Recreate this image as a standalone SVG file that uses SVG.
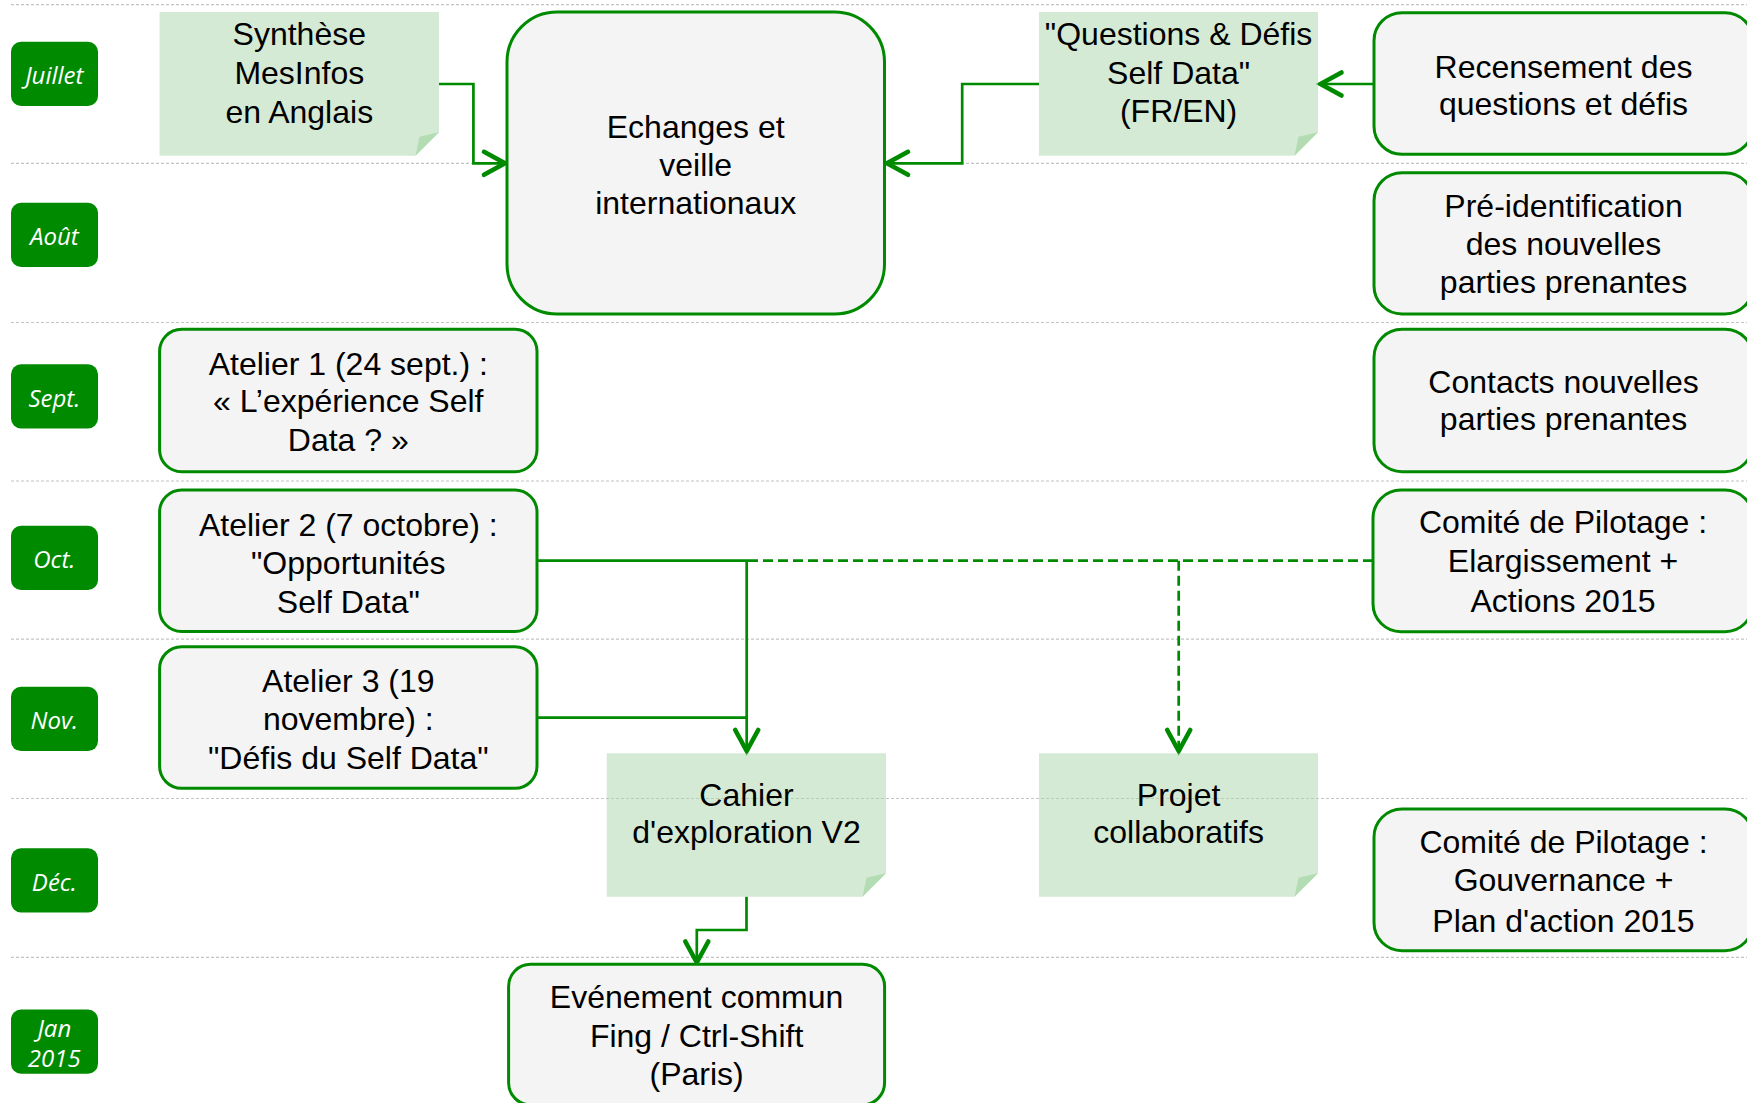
<svg xmlns="http://www.w3.org/2000/svg" width="1747" height="1103" viewBox="0 0 1747 1103">
<style>
.grid{stroke:#c4c4c4;stroke-width:1.2;stroke-dasharray:3 2;fill:none}
.badge{fill:#008a00}
.btxt{font-family:"Open Sans","DejaVu Sans",sans-serif;font-style:italic;font-size:24px;fill:#ffffff;text-anchor:middle}
.box{fill:#f4f4f4;stroke:#008a00;stroke-width:3}
.note{fill:#aad5aa;fill-opacity:0.5}
.fold{fill:#b3dcb3}
.txt{font-family:"Liberation Sans",Arial,sans-serif;font-size:32px;fill:#000;text-anchor:middle}
.con{fill:none;stroke:#008a00;stroke-width:2.7}
.dash{stroke-dasharray:10 5}
</style>
<defs>
<marker id="arr" markerUnits="userSpaceOnUse" viewBox="-30 -20 40 40" refX="0" refY="0" markerWidth="40" markerHeight="40" orient="auto" overflow="visible">
<path d="M-21,-11.5 L0,0 L-21,11.5" fill="none" stroke="#008a00" stroke-width="4.6" stroke-linejoin="miter" stroke-linecap="round" stroke-dasharray="none"/>
</marker>
</defs>
<rect width="1747" height="1103" fill="#ffffff"/>
<g id="grid">
<line class="grid" x1="11" y1="4.7" x2="1747" y2="4.7"/>
<line class="grid" x1="11" y1="163.3" x2="1747" y2="163.3"/>
<line class="grid" x1="11" y1="322.5" x2="1747" y2="322.5"/>
<line class="grid" x1="11" y1="481" x2="1747" y2="481"/>
<line class="grid" x1="11" y1="639.2" x2="1747" y2="639.2"/>
<line class="grid" x1="11" y1="798.5" x2="1747" y2="798.5"/>
<line class="grid" x1="11" y1="957.3" x2="1747" y2="957.3"/>
</g>
<g id="months">
<g id="m-juillet"><rect class="badge" x="11" y="41.7" width="87" height="64.3" rx="10"/><text class="btxt" x="54.3" y="84.3">Juillet</text></g>
<g id="m-aout"><rect class="badge" x="11" y="202.7" width="87" height="64.3" rx="10"/><text class="btxt" x="54.3" y="245.3">Août</text></g>
<g id="m-sept"><rect class="badge" x="11" y="364.2" width="87" height="64.3" rx="10"/><text class="btxt" x="54.3" y="406.8">Sept.</text></g>
<g id="m-oct"><rect class="badge" x="11" y="525.7" width="87" height="64.3" rx="10"/><text class="btxt" x="54.3" y="568.3">Oct.</text></g>
<g id="m-nov"><rect class="badge" x="11" y="686.8" width="87" height="64.3" rx="10"/><text class="btxt" x="54.3" y="729.4">Nov.</text></g>
<g id="m-dec"><rect class="badge" x="11" y="848.2" width="87" height="64.3" rx="10"/><text class="btxt" x="54.3" y="890.8">Déc.</text></g>
<g id="m-jan"><rect class="badge" x="11" y="1009.5" width="87" height="64.3" rx="10"/><text class="btxt" x="54.3" y="1036.7">Jan</text><text class="btxt" x="54.3" y="1067.3">2015</text></g>
</g>
<g id="connectors">
<path class="con" d="M439,84 H473.4 V163.3 H505" marker-end="url(#arr)"/>
<path class="con" d="M1039,84 H962.2 V163.3 H887" marker-end="url(#arr)"/>
<path class="con" d="M1374,84 H1320.5" marker-end="url(#arr)"/>
<path class="con dash" d="M1373,560.7 H746.7"/>
<path class="con dash" d="M1178.7,560.7 V751" marker-end="url(#arr)"/>
<path class="con" d="M537,560.7 H746.7 V751" marker-end="url(#arr)"/>
<path class="con" d="M537,717.7 H746.7"/>
<path class="con" d="M746.5,896.7 V930 H696.8 V962.5" marker-end="url(#arr)"/>
</g>
<g id="n-synthese">
<path class="note" d="M159.6,12 H439 V132.2 L415.5,155.7 H159.6 Z"/>
<path class="fold" d="M415.5,155.7 L439,132.2 L419.5,136.7 Z"/>
<text class="txt" x="299.3" y="45">Synthèse</text>
<text class="txt" x="299.3" y="83.5">MesInfos</text>
<text class="txt" x="299.3" y="122.5">en Anglais</text>
</g>
<g id="n-echanges">
<rect class="box" x="507" y="12" width="377.5" height="302" rx="50"/>
<text class="txt" x="695.7" y="137.5">Echanges et</text>
<text class="txt" x="695.7" y="175.5">veille</text>
<text class="txt" x="695.7" y="214">internationaux</text>
</g>
<g id="n-questions">
<path class="note" d="M1039,12 H1318 V132.2 L1294.5,155.7 H1039 Z"/>
<path class="fold" d="M1294.5,155.7 L1318,132.2 L1298.5,136.7 Z"/>
<text class="txt" x="1178.6" y="45">"Questions &amp; Défis</text>
<text class="txt" x="1178.6" y="83.5">Self Data"</text>
<text class="txt" x="1178.6" y="122">(FR/EN)</text>
</g>
<g id="n-recensement">
<rect class="box" x="1374" y="12.7" width="379" height="141.6" rx="28"/>
<text class="txt" x="1563.5" y="77.7">Recensement des</text>
<text class="txt" x="1563.5" y="114.5">questions et défis</text>
</g>
<g id="n-preid">
<rect class="box" x="1374" y="172.7" width="379" height="141.3" rx="28"/>
<text class="txt" x="1563.5" y="217">Pré-identification</text>
<text class="txt" x="1563.5" y="255">des nouvelles</text>
<text class="txt" x="1563.5" y="293.3">parties prenantes</text>
</g>
<g id="n-contacts">
<rect class="box" x="1374" y="329.3" width="379" height="142.4" rx="28"/>
<text class="txt" x="1563.5" y="393.3">Contacts nouvelles</text>
<text class="txt" x="1563.5" y="430">parties prenantes</text>
</g>
<g id="n-comite1">
<rect class="box" x="1373" y="490" width="380" height="141.7" rx="28"/>
<text class="txt" x="1563" y="533.3">Comité de Pilotage :</text>
<text class="txt" x="1563" y="571.7">Elargissement +</text>
<text class="txt" x="1563" y="611.7">Actions 2015</text>
</g>
<g id="n-atelier1">
<rect class="box" x="159.6" y="329.3" width="377.4" height="142.4" rx="22"/>
<text class="txt" x="348.3" y="375">Atelier 1 (24 sept.) :</text>
<text class="txt" x="348.3" y="412">« L’expérience Self</text>
<text class="txt" x="348.3" y="451">Data ? »</text>
</g>
<g id="n-atelier2">
<rect class="box" x="159.6" y="490" width="377.4" height="141.5" rx="22"/>
<text class="txt" x="348.3" y="536">Atelier 2 (7 octobre) :</text>
<text class="txt" x="348.3" y="573.5">"Opportunités</text>
<text class="txt" x="348.3" y="612.7">Self Data"</text>
</g>
<g id="n-atelier3">
<rect class="box" x="159.6" y="646.7" width="377.4" height="141.6" rx="22"/>
<text class="txt" x="348.3" y="691.7">Atelier 3 (19</text>
<text class="txt" x="348.3" y="729.5">novembre) :</text>
<text class="txt" x="348.3" y="769.3">"Défis du Self Data"</text>
</g>
<g id="n-cahier">
<path class="note" d="M606.7,753.3 H886 V873.2 L862.5,896.7 H606.7 Z"/>
<path class="fold" d="M862.5,896.7 L886,873.2 L866.5,877.7 Z"/>
<text class="txt" x="746.5" y="806">Cahier</text>
<text class="txt" x="746.5" y="843.3">d'exploration V2</text>
</g>
<g id="n-projet">
<path class="note" d="M1039,753.3 H1318 V873.2 L1294.5,896.7 H1039 Z"/>
<path class="fold" d="M1294.5,896.7 L1318,873.2 L1298.5,877.7 Z"/>
<text class="txt" x="1178.6" y="806">Projet</text>
<text class="txt" x="1178.6" y="843.3">collaboratifs</text>
</g>
<g id="n-comite2">
<rect class="box" x="1374" y="809" width="379" height="141.7" rx="28"/>
<text class="txt" x="1563.5" y="852.7">Comité de Pilotage :</text>
<text class="txt" x="1563.5" y="891">Gouvernance +</text>
<text class="txt" x="1563.5" y="931.7">Plan d'action 2015</text>
</g>
<g id="n-evenement">
<rect class="box" x="508.6" y="964.3" width="376" height="140.5" rx="22"/>
<text class="txt" x="696.6" y="1008.3">Evénement commun</text>
<text class="txt" x="696.6" y="1046.7">Fing / Ctrl-Shift</text>
<text class="txt" x="696.6" y="1085">(Paris)</text>
</g>
</svg>
